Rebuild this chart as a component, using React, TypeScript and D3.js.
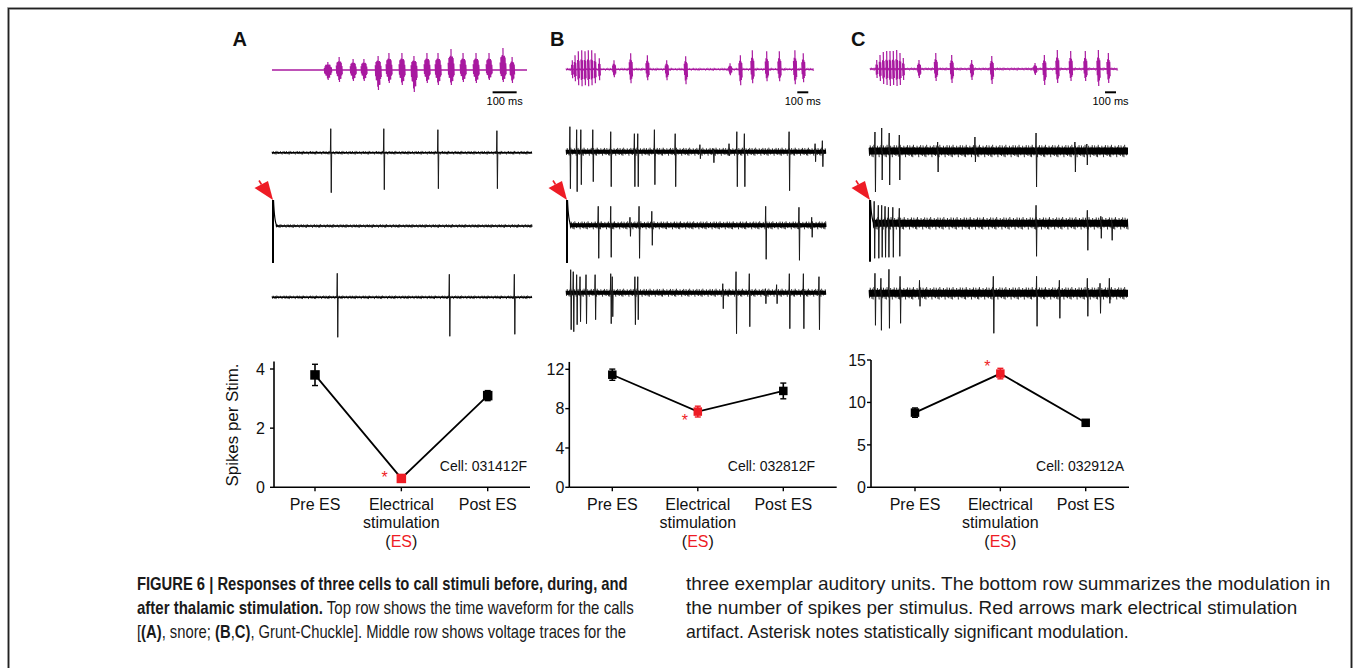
import React, { useLayoutEffect, useRef, useState } from "react";
import * as d3 from "d3";

const FONT = "'Liberation Sans', Arial, Helvetica, sans-serif";
const CAPFONT = "'Liberation Sans Narrow', 'Arial Narrow', 'Liberation Sans', Arial, sans-serif";
const MAGENTA = "#a8189f";
const RED = "#ee1c25";

// ---- Call waveforms: [time ms, up amplitude, down amplitude, burst duration ms]
const callA: number[][] = [
  [232, 8, 10, 34], [279, 13, 12, 26], [337, 11, 11, 24], [382, 11, 11, 24],
  [441, 14, 20, 26], [486, 17, 13, 26], [540, 17, 15, 26], [590, 14, 22, 26],
  [644, 17, 13, 26], [690, 17, 15, 26], [744, 21, 15, 26], [794, 17, 12, 26],
  [848, 17, 13, 26], [902, 17, 10, 24], [960, 22, 12, 24], [998, 13, 13, 22],
];
const callB: number[][] = [
  [57, 9, 9, 24], [82, 14, 12, 24], [112, 18, 16, 24], [143, 19, 17, 24], [173, 18, 16, 24],
  [203, 19, 17, 24], [234, 19, 16, 24], [264, 16, 14, 24], [303, 11, 11, 24],
  [437, 9, 8, 34], [589, 16, 14, 36], [741, 14, 11, 36], [917, 9, 11, 36], [1090, 13, 15, 36],
  [1494, 6, 6, 30], [1588, 14, 16, 34], [1697, 19, 14, 34], [1828, 18, 12, 34],
  [1943, 18, 12, 34], [2085, 19, 15, 34], [2161, 16, 13, 34],
];
const callC: number[][] = [
  [61, 9, 9, 24], [91, 14, 12, 24], [121, 17, 15, 24], [152, 18, 16, 24], [182, 18, 17, 24],
  [212, 18, 16, 24], [243, 19, 17, 24], [273, 16, 16, 24], [303, 11, 11, 24],
  [446, 9, 9, 34], [599, 16, 12, 36], [744, 14, 14, 36], [926, 9, 11, 36], [1109, 13, 15, 36],
  [1503, 6, 6, 30], [1588, 14, 16, 34], [1706, 19, 14, 34], [1828, 18, 12, 34],
  [1961, 18, 12, 34], [2080, 19, 17, 34], [2171, 16, 14, 34],
];

// ---- Voltage traces: spikes [time (0-1000), up, down]
const spikesA1: number[][] = [[226, 24, 40], [430, 24, 37], [638, 23, 36], [865, 22, 36]];
const spikesA2: number[][] = [];
const spikesA3: number[][] = [[251, 24, 40], [682, 23, 39], [932, 23, 37]];
const spikesB1: number[][] = [
  [15, 25, 37], [41, 22, 40], [57, 22, 33], [103, 22, 30], [172, 20, 35], [263, 18, 35],
  [276, 18, 35], [340, 22, 33], [420, 18, 35], [515, 7, 7], [567, 3, 11], [627, 8, 4],
  [657, 20, 35], [686, 18, 35], [858, 20, 39], [958, 8, 10], [986, 11, 15],
];
const spikesB2: number[][] = [
  [124, 19, 33], [172, 19, 32], [246, 8, 11], [281, 19, 33], [330, 14, 20],
  [768, 19, 34], [896, 18, 35], [945, 8, 12],
];
const spikesB3: number[][] = [
  [18, 23, 37], [28, 21, 39], [41, 18, 32], [54, 16, 29], [77, 18, 31], [112, 18, 27],
  [172, 19, 31], [178, 16, 24], [265, 16, 32], [276, 16, 27], [603, 9, 16], [654, 21, 41],
  [705, 19, 34], [767, 4, 11], [810, 8, 11], [859, 19, 36], [913, 19, 36], [973, 16, 37],
];
const spikesC1: number[][] = [
  [23, 19, 41], [49, 23, 29], [78, 18, 34], [117, 16, 29], [265, 9, 21], [409, 14, 11],
  [645, 18, 36], [795, 9, 21], [841, 7, 14],
];
const spikesC2: number[][] = [
  [20, 22, 35], [36, 18, 35], [49, 18, 34], [62, 17, 34], [75, 16, 34], [92, 16, 34],
  [117, 15, 33], [645, 18, 33], [843, 13, 27], [895, 7, 15], [937, 3, 17],
];
const spikesC3: number[][] = [
  [23, 20, 32], [46, 15, 37], [77, 24, 35], [120, 17, 30], [195, 13, 13], [480, 17, 40],
  [647, 17, 33], [735, 13, 25], [843, 15, 23], [892, 10, 20], [928, 15, 10],
];
// stimulation artifact [up, down]
const artifactA = [26, 37];
const artifactB = [25.3, 37.7];
const artifactC = [23.3, 38.4];

// ---- Summary data
const conditions = ["Pre ES", "Electrical stimulation (ES)", "Post ES"];
const conditionLines = [["Pre ES"], ["Electrical", "stimulation", "(ES)"], ["Post ES"]];
const meansA = [3.8, 0.3, 3.1];
const errsA = [0.36, 0.1, 0.17];
const meansB = [11.45, 7.7, 9.8];
const errsB = [0.57, 0.55, 0.8];
const meansC = [8.8, 13.4, 7.6];
const errsC = [0.55, 0.62, 0.3];
const ticksA = [0, 2, 4];
const ticksB = [0, 4, 8, 12];
const ticksC = [0, 5, 10, 15];
const cells = ["Cell: 031412F", "Cell: 032812F", "Cell: 032912A"];
const panelLetters = ["A", "B", "C"];

// texture shape for drawing recording noise / oscillation cycles (style, not data)
const TEX_UP = [0.5, 0.9, 0.35, 0.75, 1, 0.6, 0.45, 0.85, 0.3, 0.7, 0.95];
const TEX_DN = [0.8, 0.4, 1, 0.55, 0.7, 0.3, 0.9, 0.5, 0.65, 1, 0.45];

function burstPath(x: number, c: number, w: number, up: number, dn: number) {
  const h = Math.max(w / 2, 0.9);
  const step = 0.7;
  const n = Math.max(1, Math.floor(h / step));
  let d = `M${x},${c - up} L${x + 0.4},${c + dn}`;
  for (let k = -n; k <= n; k++) {
    if (k === 0) continue;
    const env = Math.pow(1 - Math.abs(k) / (n + 1), 0.6);
    const i = (k + 40) % TEX_UP.length;
    const fu = 0.6 + 0.4 * TEX_UP[i];
    const fd = 0.6 + 0.4 * TEX_DN[i];
    const xx = x + k * step;
    d += ` M${xx},${c - up * env * fu} L${xx + 0.4},${c + dn * env * fd}`;
  }
  return d;
}

function noisePath(x0: number, x1: number, base: number, amp: number, step: number) {
  let d = "";
  let i = 0;
  for (let xx = x0; xx < x1; xx += step, i++) {
    const u = amp * TEX_UP[i % TEX_UP.length];
    const v = amp * TEX_DN[(i * 3) % TEX_DN.length];
    d += `M${xx.toFixed(2)},${(base - u).toFixed(2)} L${(xx + step / 2).toFixed(2)},${(base + v).toFixed(2)} `;
  }
  return d;
}

function CallWave({ bursts, domain, range, cy, noise, barStart }: any) {
  const x = d3.scaleLinear().domain(domain).range(range);
  const bx0 = x(barStart);
  const bx1 = x(barStart + 100);
  return (
    <g>
      <line x1={x(domain[0])} x2={x(domain[1])} y1={cy} y2={cy} stroke={MAGENTA} strokeWidth={1.3} />
      {noise > 0 && <path d={noisePath(x(domain[0]), x(domain[1]), cy, noise, 1.3)} stroke={MAGENTA} strokeWidth={0.8} fill="none" />}
      {bursts.map((b: number[], i: number) => {
        const w = x(b[0] + b[3] / 2) - x(b[0] - b[3] / 2);
        return <path key={i} d={burstPath(x(b[0]), cy, w, b[1], b[2])} fill="none" stroke={MAGENTA} strokeWidth={1.2} />;
      })}
      <line x1={bx0} x2={bx1} y1={92.3} y2={92.3} stroke="#000" strokeWidth={2} />
      <text x={(bx0 + bx1) / 2} y={105} textAnchor="middle" fontFamily={FONT} fontSize={11} fill="#000">100 ms</text>
    </g>
  );
}

function Trace({ spikes, range, base, core, amp, artifact }: any) {
  const x = d3.scaleLinear().domain([0, 1000]).range(range);
  const start = artifact ? x(0) + 4 : x(0);
  return (
    <g>
      <line x1={start} x2={x(1000)} y1={base} y2={base} stroke="#000" strokeWidth={core} />
      <path d={noisePath(start, x(1000), base, amp, 1.2)} stroke="#000" strokeWidth={0.8} fill="none" />
      {spikes.map((s: number[], i: number) => {
        const sx = x(s[0]);
        return (
          <path key={i} d={`M${sx - 0.4},${base} L${sx},${base - s[1]} L${sx + 0.5},${base + s[2]} L${sx + 0.9},${base}`}
            fill="none" stroke="#1a1a1a" strokeWidth={1} />
        );
      })}
      {artifact && (
        <g>
          <line x1={x(0) + 1} x2={x(0) + 1} y1={base - artifact[0]} y2={base + artifact[1]} stroke="#000" strokeWidth={2} />
          <path d={`M${x(0) + 1.5},${base - artifact[0]} Q${x(0) + 2.5},${base - 3} ${x(0) + 5},${base}`} fill="none" stroke="#000" strokeWidth={1.2} />
          <RedArrow tx={x(0) + 1} ty={base - artifact[0]} />
        </g>
      )}
    </g>
  );
}

function RedArrow({ tx, ty }: { tx: number; ty: number }) {
  return (
    <g>
      <path d={`M${tx},${ty} L${tx - 18.5},${ty - 12} L${tx - 5},${ty - 19} Z`} fill={RED} />
      <line x1={tx - 11.5} y1={ty - 15.5} x2={tx - 14} y2={ty - 19.5} stroke={RED} strokeWidth={1.6} />
    </g>
  );
}

function Summary({ means, errs, ticks, yTopVal, yTopPx, xTicks, axisX, cell, cellX, star, marker, gap, title }: any) {
  const y = d3.scaleLinear().domain([0, ticks[ticks.length - 1]]).range([487.3, yTopPx]);
  const x = d3.scalePoint<string>().domain(conditions).range(xTicks);
  const line = d3.line<number>().x((_, i) => x(conditions[i]) as number).y((d) => y(d));
  const esX = x(conditions[1]) as number;
  return (
    <g fontFamily={FONT}>
      <line x1={axisX[0]} x2={axisX[0]} y1={y(yTopVal)} y2={y(0)} stroke="#000" strokeWidth={1.6} />
      <line x1={axisX[0]} x2={axisX[1]} y1={y(0)} y2={y(0)} stroke="#000" strokeWidth={1.6} />
      {ticks.map((t: number) => (
        <g key={t}>
          <line x1={axisX[0] - 4} x2={axisX[0]} y1={y(t)} y2={y(t)} stroke="#000" strokeWidth={1.4} />
          <text x={axisX[0] - gap} y={y(t)} dy="0.36em" textAnchor="end" fontSize={16} fill="#111">{t}</text>
        </g>
      ))}
      {conditions.map((c, i) => (
        <g key={c}>
          <line x1={x(c)} x2={x(c)} y1={y(0)} y2={y(0) + 4} stroke="#000" strokeWidth={1.4} />
          {conditionLines[i].map((ln, j) => (
            <text key={j} x={x(c)} y={510 + j * 18.3} textAnchor="middle" fontSize={16} fill="#111">
              {ln === "(ES)" ? (<><tspan>(</tspan><tspan fill={RED}>ES</tspan><tspan>)</tspan></>) : ln}
            </text>
          ))}
        </g>
      ))}
      <path d={line(means) as string} fill="none" stroke="#000" strokeWidth={1.8} />
      {means.map((m: number, i: number) => {
        const cx = x(conditions[i]) as number;
        const col = i === 1 ? RED : "#000";
        return (
          <g key={i}>
            <line x1={cx} x2={cx} y1={y(m - errs[i])} y2={y(m + errs[i])} stroke={col} strokeWidth={1.6} />
            <line x1={cx - 3} x2={cx + 3} y1={y(m - errs[i])} y2={y(m - errs[i])} stroke={col} strokeWidth={1.4} />
            <line x1={cx - 3} x2={cx + 3} y1={y(m + errs[i])} y2={y(m + errs[i])} stroke={col} strokeWidth={1.4} />
            <rect x={cx - marker / 2} y={y(m) - marker / 2} width={marker} height={marker} fill={col} />
          </g>
        );
      })}
      <text x={esX + star[0]} y={y(means[1]) + star[1] + 7} textAnchor="middle" fontSize={16} fill={RED}>*</text>
      <text x={cellX} y={470.5} textAnchor="end" fontSize={14} fill="#111">{cell}</text>
      {title && (
        <text transform="translate(237.5,425) rotate(-90)" textAnchor="middle" fontSize={16} textLength={123} lengthAdjust="spacingAndGlyphs" fill="#111">Spikes per Stim.</text>
      )}
    </g>
  );
}

function FitText({ x, y, width, children, ...rest }: any) {
  const ref = useRef<SVGTextElement>(null);
  const [k, setK] = useState(1);
  useLayoutEffect(() => {
    if (ref.current) {
      const w = ref.current.getComputedTextLength();
      if (w > 0) setK(width / w);
    }
  }, [width]);
  return (
    <text ref={ref} transform={`translate(${x},${y}) scale(${k},1)`} {...rest}>{children}</text>
  );
}

export default function App() {
  const capL = { fontFamily: CAPFONT, fontSize: 18, fill: "#1a1a1a" } as any;
  const capR = { fontFamily: CAPFONT, fontSize: 17.5, fill: "#1a1a1a" } as any;
  return (
    <svg width={1357} height={668} style={{ position: "absolute", left: 0, top: 0, background: "#fff" }}>
      <rect x={0} y={0} width={1357} height={668} fill="#fff" />
      <rect x={8.5} y={8.5} width={1343} height={700} fill="none" stroke="#bbb" strokeWidth={3} />
      <rect x={8.5} y={8.5} width={1343} height={700} fill="none" stroke="#222" strokeWidth={1.4} />

      {panelLetters.map((l, i) => (
        <text key={l} x={[232.5, 550, 851][i]} y={46} fontFamily={FONT} fontWeight="bold" fontSize={20} fill="#111">{l}</text>
      ))}

      <CallWave bursts={callA} domain={[0, 1060]} range={[272, 527]} cy={70} noise={0} barStart={917} />
      <CallWave bursts={callB} domain={[0, 2250]} range={[566, 813]} cy={69.3} noise={1.6} barStart={2107} />
      <CallWave bursts={callC} domain={[0, 2250]} range={[870, 1117]} cy={69} noise={1.6} barStart={2141} />

      <Trace spikes={spikesA1} range={[272, 532]} base={152.7} core={1.6} amp={1.8} />
      <Trace spikes={spikesA2} range={[272, 532]} base={226} core={1.6} amp={1.8} artifact={artifactA} />
      <Trace spikes={spikesA3} range={[272, 532]} base={297.3} core={1.6} amp={1.8} />
      <Trace spikes={spikesB1} range={[566, 826]} base={151.7} core={4} amp={4} />
      <Trace spikes={spikesB2} range={[566, 826]} base={225.3} core={4} amp={4} artifact={artifactB} />
      <Trace spikes={spikesB3} range={[566, 826]} base={292.7} core={4} amp={4} />
      <Trace spikes={spikesC1} range={[869, 1128]} base={151} core={7} amp={6.2} />
      <Trace spikes={spikesC2} range={[869, 1128]} base={223.3} core={7} amp={6.2} artifact={artifactC} />
      <Trace spikes={spikesC3} range={[869, 1128]} base={293.3} core={7} amp={6.2} />

      <Summary means={meansA} errs={errsA} ticks={ticksA} yTopVal={4.25} yTopPx={369} xTicks={[315, 487.7]} axisX={[274, 530]}
        cell={cells[0]} cellX={527} star={[-16.7, -2]} marker={9.5} gap={9} title />
      <Summary means={meansB} errs={errsB} ticks={ticksB} yTopVal={12.75} yTopPx={369.3} xTicks={[612.3, 783.3]} axisX={[569.3, 836.7]}
        cell={cells[1]} cellX={815} star={[-13, 7]} marker={8.5} gap={5} />
      <Summary means={meansC} errs={errsC} ticks={ticksC} yTopVal={15} yTopPx={360} xTicks={[915, 1085.7]} axisX={[871, 1129]}
        cell={cells[2]} cellX={1124} star={[-13, -9]} marker={8.5} gap={5} />

      <g style={capL}>
        <FitText x={137} y={589.5} width={491} fontWeight="bold">FIGURE 6 | Responses of three cells to call stimuli before, during, and</FitText>
        <FitText x={137} y={613.5} width={497}>
          <tspan fontWeight="bold">after thalamic stimulation.</tspan> Top row shows the time waveform for the calls
        </FitText>
        <FitText x={137} y={637.5} width={489}>
          [<tspan fontWeight="bold">(A)</tspan>, snore; <tspan fontWeight="bold">(B</tspan>,<tspan fontWeight="bold">C)</tspan>, Grunt-Chuckle]. Middle row shows voltage traces for the
        </FitText>
      </g>
      <g style={capR}>
        <FitText x={686} y={589.5} width={645}>three exemplar auditory units. The bottom row summarizes the modulation in</FitText>
        <FitText x={686} y={613.5} width={612}>the number of spikes per stimulus. Red arrows mark electrical stimulation</FitText>
        <FitText x={686} y={637.5} width={443}>artifact. Asterisk notes statistically significant modulation.</FitText>
      </g>
    </svg>
  );
}
